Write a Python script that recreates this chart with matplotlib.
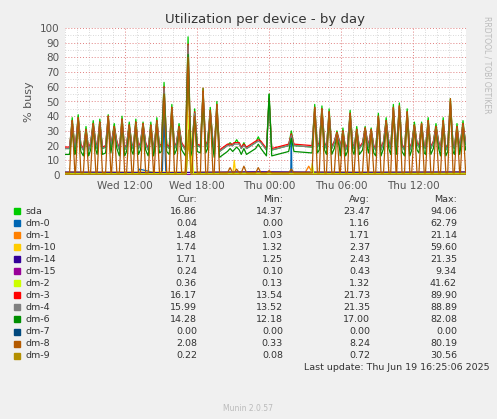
import numpy as np
import matplotlib.pyplot as plt

# time axis in hours since Wed 07:00
spike_h = np.array([0.6, 1.1, 1.75, 2.35, 2.9, 3.6, 4.1, 4.75, 5.35, 5.9, 6.5, 7.15, 7.65,
                    8.25, 8.9, 9.5, 10.25, 10.8, 11.5, 12.1, 12.65, 13.75, 14.3, 14.9, 16.1,
                    17.0, 18.85, 20.8, 21.4, 22.0, 22.65, 23.15, 23.75, 24.3, 25.0, 25.5,
                    26.1, 26.75, 27.35, 27.85, 28.5, 29.1, 29.7, 30.25, 30.9, 31.5, 32.1,
                    32.65, 33.15])
sda_peak = [39, 41, 33, 37, 38, 41, 35, 40, 36, 38, 36, 36, 39, 63, 48, 35, 94, 45, 59, 46, 50,
            22, 24, 22, 26, 55, 30, 48, 47, 45, 30, 32, 44, 33, 33, 32, 42, 39, 48, 49, 45,
            36, 36, 39, 35, 39, 52, 35, 37]
sda_base = [18, 20, 17, 21, 18, 19, 22, 17, 20, 18, 21, 17, 19, 20, 18, 21, 17, 20, 19, 22, 16,
            20, 21, 18, 22, 17, 20, 19, 21, 18, 22, 17, 20, 18, 21, 19, 17, 22, 18, 20, 17,
            21, 19, 18, 22, 17, 20, 18, 21]
dm3_peak = [37, 39, 31, 35, 36, 40, 33, 38, 34, 36, 35, 34, 37, 60, 46, 33, 89, 43, 57, 44, 48,
            21, 22, 21, 24, 52, 28, 46, 45, 43, 29, 30, 42, 31, 32, 31, 40, 37, 46, 47, 43,
            34, 35, 37, 33, 37, 50, 33, 35]
dm4_peak = [36, 38, 30, 34, 35, 39, 32, 37, 33, 35, 34, 33, 36, 59, 45, 32, 88, 42, 56, 43, 47,
            20, 21, 20, 23, 51, 27, 45, 44, 42, 28, 29, 41, 30, 31, 30, 39, 36, 45, 46, 42,
            33, 34, 36, 32, 36, 49, 32, 34]
dm6_peak = [30, 33, 27, 30, 31, 34, 29, 33, 30, 31, 30, 30, 32, 55, 40, 29, 82, 38, 50, 38, 42,
            18, 19, 18, 21, 55, 25, 40, 39, 37, 26, 27, 36, 28, 28, 27, 35, 32, 40, 41, 37,
            30, 31, 32, 29, 32, 44, 29, 31]
dm8_peak = [37, 39, 31, 35, 36, 40, 33, 38, 34, 36, 35, 34, 37, 55, 46, 33, 80, 40, 59, 44, 48,
            5, 4, 6, 5, 3, 4, 46, 45, 43, 29, 30, 42, 31, 32, 31, 40, 37, 46, 47, 43,
            34, 35, 37, 33, 37, 52, 33, 35]

# small devices: (hours, value) vertices
dm0 = ([0, 6, 6.2, 8.1, 8.25, 8.4, 18.8, 18.85, 18.9, 33.4], [0.3, 0.3, 4, 0.3, 40, 0.3, 0.3, 25, 0.3, 0.3])
dm1 = ([0, 10, 10.3, 10.6, 20, 20.3, 20.6, 33.4], [1.5, 1.5, 21, 1.5, 1.5, 6, 1.5, 1.5])
dm10 = ([0, 10.0, 10.3, 10.6, 14, 14.1, 14.2, 33.4], [2.0, 2.0, 59.6, 2.0, 2.0, 10, 2.0, 2.0])
dm14 = ([0, 8, 16, 24, 33.4], [2.0, 1.6, 2.2, 1.8, 2.1])
dm15 = ([0, 33.4], [0.4, 0.4])
dm2 = ([0, 10.1, 10.35, 10.7, 20.5, 20.6, 20.7, 33.4], [1.0, 1.0, 41.6, 1.0, 1.0, 8, 1.0, 1.0])
dm7 = ([0, 33.4], [0.0, 0.0])
dm9 = ([0, 10.1, 10.3, 10.5, 33.4], [0.5, 0.5, 30.6, 0.5, 0.5])

names = ['sda', 'dm-0', 'dm-1', 'dm-10', 'dm-14', 'dm-15', 'dm-2', 'dm-3', 'dm-4', 'dm-6', 'dm-7', 'dm-8', 'dm-9']
colors = ['#00CC00', '#0066B3', '#FF8000', '#FFCC00', '#330099', '#990099', '#CCFF00',
          '#FF0000', '#808080', '#008F00', '#00487D', '#B35A00', '#B38F00']
cur = ['16.86', '0.04', '1.48', '1.74', '1.71', '0.24', '0.36', '16.17', '15.99', '14.28', '0.00', '2.08', '0.22']
mins = ['14.37', '0.00', '1.03', '1.32', '1.25', '0.10', '0.13', '13.54', '13.52', '12.18', '0.00', '0.33', '0.08']
avgs = ['23.47', '1.16', '1.71', '2.37', '2.43', '0.43', '1.32', '21.73', '21.35', '17.00', '0.00', '8.24', '0.72']
maxs = ['94.06', '62.79', '21.14', '59.60', '21.35', '9.34', '41.62', '89.90', '88.89', '82.08', '0.00', '80.19', '30.56']


def spiky(peaks, bases, w=0.22):
    xs, ys = [0.0], [bases[0]]
    for t, p, b in zip(spike_h, peaks, bases):
        xs += [t - w, t, t + w]
        ys += [b, p, b]
    xs.append(33.4)
    ys.append(bases[-1])
    return xs, ys


dm3_base = [b + 1 for b in sda_base]
dm4_base = [b for b in sda_base]
dm6_base = [b - 4 for b in sda_base]
dm8_base = [1.5] * len(sda_base)

series = {
    'sda': spiky(sda_peak, sda_base), 'dm-0': dm0, 'dm-1': dm1, 'dm-10': dm10,
    'dm-14': dm14, 'dm-15': dm15, 'dm-2': dm2, 'dm-3': spiky(dm3_peak, dm3_base),
    'dm-4': spiky(dm4_peak, dm4_base), 'dm-6': spiky(dm6_peak, dm6_base), 'dm-7': dm7,
    'dm-8': spiky(dm8_peak, dm8_base), 'dm-9': dm9,
}

W, H = 497, 419
fig = plt.figure(figsize=(W / 100, H / 100), dpi=100, facecolor='#F0F0F0')
ax = fig.add_axes([65 / W, 1 - 175 / H, (466 - 65) / W, (175 - 28) / H])
ax.set_facecolor('white')

for n, c in zip(names, colors):
    xs, ys = series[n]
    ax.plot(xs, ys, color=c, lw=0.9)

ax.set_xlim(0, 33.4)
ax.set_ylim(0, 100)
ax.set_yticks(range(0, 101, 10))
ax.set_xticks([5, 11, 17, 23, 29])
ax.set_xticklabels(['Wed 12:00', 'Wed 18:00', 'Thu 00:00', 'Thu 06:00', 'Thu 12:00'])
ax.set_xticks(np.arange(0, 33.4, 1), minor=True)
ax.set_yticks(range(0, 101, 5), minor=True)
ax.grid(which='minor', color='#CCCCCC', ls=(0, (1, 2)), lw=0.6)
ax.grid(which='major', color='#E08080', ls=(0, (1, 2)), lw=0.7)
ax.set_axisbelow(True)
ax.tick_params(labelsize=7.5, colors='#555555', length=0, pad=4)
ax.tick_params(which='minor', length=0)
for s in ax.spines.values():
    s.set_visible(False)
ax.set_ylabel('% busy', fontsize=8, color='#555555')

fig.text(265 / W, 1 - 19 / H, 'Utilization per device - by day', ha='center', va='center',
         fontsize=9.5, color='#333333')
fig.text(487 / W, 1 - 65 / H, 'RRDTOOL / TOBI OETIKER', rotation=270, ha='center', va='center',
         fontsize=5.5, color='#BBBBBB')

fs = 6.8
tc = '#333333'
col_x = [197, 283, 370, 457]
for x, h in zip(col_x, ['Cur:', 'Min:', 'Avg:', 'Max:']):
    fig.text(x / W, 1 - 199 / H, h, ha='right', va='center', fontsize=fs, color=tc)
for i, n in enumerate(names):
    y = 1 - (211 + 12.05 * i) / H
    fig.patches.append(plt.Rectangle((14 / W, y - 3 / H), 6 / W, 6 / H, transform=fig.transFigure,
                                     color=colors[i]))
    fig.text(25 / W, y, n, ha='left', va='center', fontsize=fs, color=tc)
    for x, v in zip(col_x, [cur[i], mins[i], avgs[i], maxs[i]]):
        fig.text(x / W, y, v, ha='right', va='center', fontsize=fs, color=tc)
fig.text(490 / W, 1 - 367 / H, 'Last update: Thu Jun 19 16:25:06 2025', ha='right', va='center',
         fontsize=fs, color=tc)
fig.text(248 / W, 1 - 408 / H, 'Munin 2.0.57', ha='center', va='center', fontsize=5.5, color='#BBBBBB')

fig.savefig('out.png', dpi=100, facecolor=fig.get_facecolor())
